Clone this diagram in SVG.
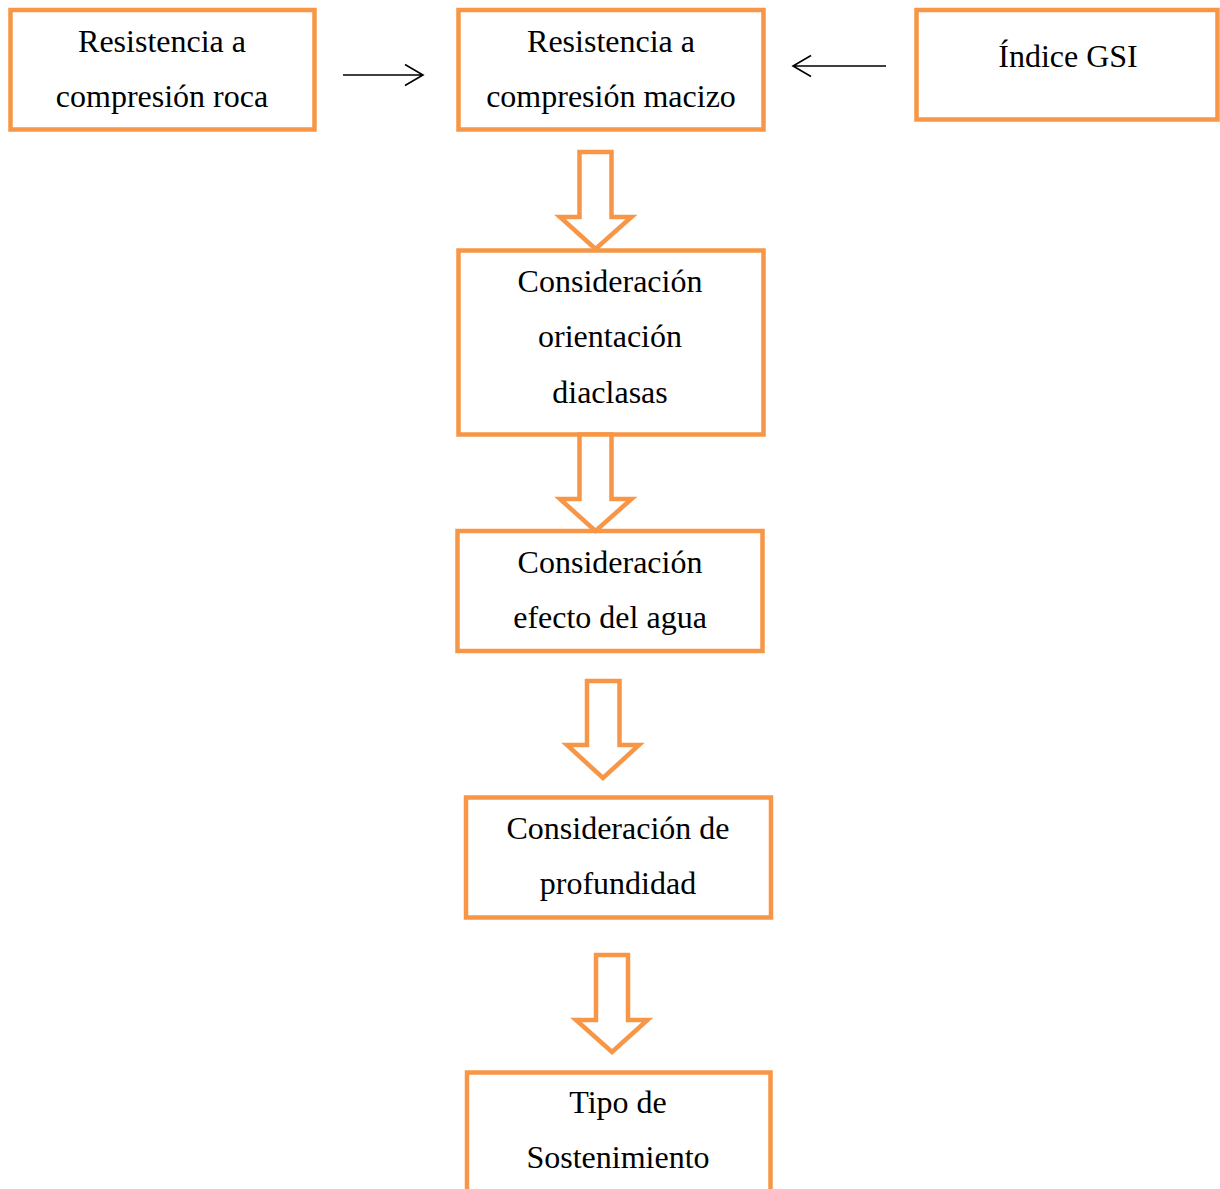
<svg xmlns="http://www.w3.org/2000/svg" width="1220" height="1189" viewBox="0 0 1220 1189">
<defs>
<style>
.box{fill:#fff;stroke:#F79646;stroke-width:4.5}
.blk{fill:#fff;stroke:#F79646;stroke-width:4.5;stroke-linejoin:miter}
.t{font-family:"Liberation Serif","Times New Roman",serif;font-size:32px;fill:#000;text-anchor:middle}
.ln{stroke:#000;stroke-width:1.6;fill:none}
</style>
</defs>
<rect width="1220" height="1189" fill="#fff"/>
<g id="n1"><rect class="box" x="10.5" y="10" width="304" height="119.5"/>
<text class="t" x="162" y="52">Resistencia a</text><text class="t" x="162" y="107">compresión roca</text></g>
<g id="n2"><rect class="box" x="458.5" y="10" width="305" height="119.5"/>
<text class="t" x="611" y="52">Resistencia a</text><text class="t" x="611" y="107">compresión macizo</text></g>
<g id="n3"><rect class="box" x="916.5" y="10" width="301" height="109.5"/>
<text class="t" x="1068" y="67">Índice GSI</text></g>
<g id="n4"><rect class="box" x="458.5" y="250.5" width="305" height="184"/>
<text class="t" x="610" y="292">Consideración</text><text class="t" x="610" y="347">orientación</text><text class="t" x="610" y="403">diaclasas</text></g>
<g id="n5"><rect class="box" x="457.5" y="531" width="305" height="120"/>
<text class="t" x="610" y="573">Consideración</text><text class="t" x="610" y="628">efecto del agua</text></g>
<g id="n6"><rect class="box" x="466" y="797.5" width="305" height="120"/>
<text class="t" x="618" y="839">Consideración de</text><text class="t" x="618" y="894">profundidad</text></g>
<g id="n7"><rect class="box" x="467" y="1072.5" width="303.5" height="140"/>
<text class="t" x="618" y="1113">Tipo de</text><text class="t" x="618" y="1168">Sostenimiento</text></g>
<g id="connectors">
<path class="ln" d="M343 75H423M405 64.5L423 75L405 85.5"/>
<path class="ln" d="M886 66H793M811 55.5L793 66L811 76.5"/>
<path class="blk" d="M579.5 152H611.5V217H631.5L595.5 249L560 217H579.5Z"/>
<path class="blk" d="M579.5 434.5H611.5V499H631.5L595.5 531L560 499H579.5Z"/>
<path class="blk" d="M587 681H619.5V745H639L603 778L567 745H587Z"/>
<path class="blk" d="M596 955H628V1020H647.5L612 1052L576 1020H596Z"/>
</g>
</svg>
